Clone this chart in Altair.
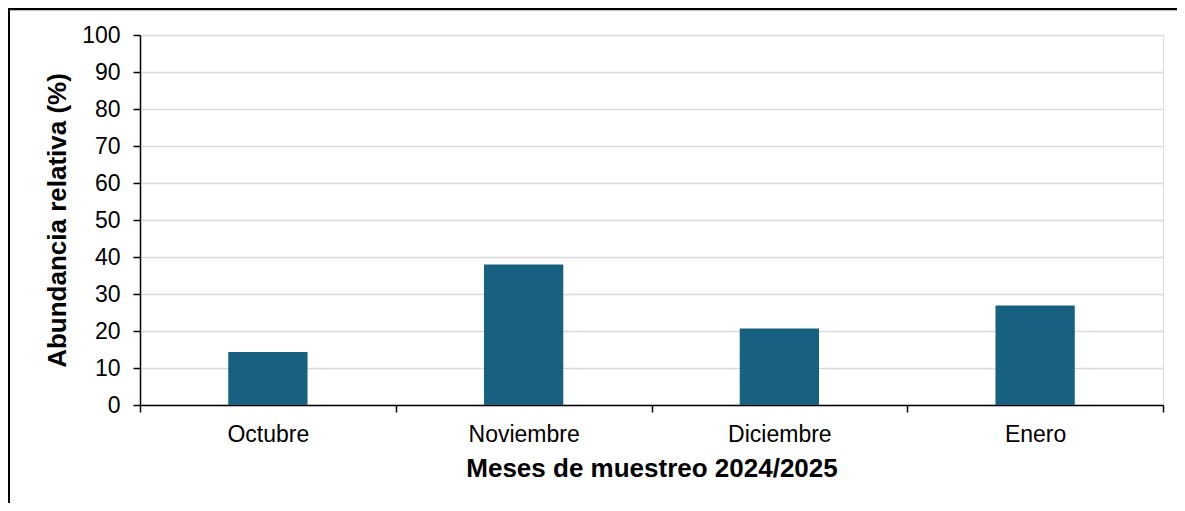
import altair as alt
import pandas as pd

months = ["Octubre", "Noviembre", "Diciembre", "Enero"]
abundance = [14.3, 38.0, 20.7, 26.9]
y_ticks = [0, 10, 20, 30, 40, 50, 60, 70, 80, 90, 100]

df = pd.DataFrame({"mes": months, "abundancia": abundance})
frame_df = pd.DataFrame({"f": [0]})

FONT = "Liberation Sans"
W, H = 1023, 370

bars = alt.Chart(df).mark_bar(color="#17607F", width=alt.RelativeBandSize(0.31)).encode(
    x=alt.X(
        "mes:N",
        sort=months,
        title="Meses de muestreo 2024/2025",
        scale=alt.Scale(paddingInner=0, paddingOuter=0),
        axis=alt.Axis(
            labelAngle=0,
            labelFont=FONT,
            labelFontSize=23,
            labelColor="#000000",
            labelBaseline="middle",
            labelPadding=22,
            ticks=True,
            tickBand="extent",
            tickSize=7,
            tickColor="#000000",
            tickWidth=1.5,
            domainColor="#000000",
            domainWidth=1.5,
            grid=False,
            titleFont=FONT,
            titleFontSize=26,
            titleFontWeight="bold",
            titleColor="#000000",
            titleX=W / 2,
            titleY=63,
            titleAlign="center",
            titleBaseline="middle",
        ),
    ),
    y=alt.Y(
        "abundancia:Q",
        title="Abundancia relativa (%)",
        scale=alt.Scale(domain=[0, 100], nice=False),
        axis=alt.Axis(
            values=y_ticks,
            labelFont=FONT,
            labelFontSize=23,
            labelColor="#000000",
            labelPadding=13,
            tickSize=7,
            tickColor="#000000",
            tickWidth=1.5,
            domainColor="#000000",
            domainWidth=1.5,
            grid=True,
            gridColor="#D9D9D9",
            gridWidth=1.5,
            titleFont=FONT,
            titleFontSize=26,
            titleFontWeight="bold",
            titleColor="#000000",
            titleAngle=270,
            titleX=-83,
            titleY=H / 2,
            titleAlign="center",
            titleBaseline="middle",
        ),
    ),
)

frame_top = alt.Chart(frame_df).mark_rule(color="#000000", strokeWidth=2.5).encode(
    x=alt.value(-132), x2=alt.value(W + 20), y=alt.value(-26)
)
frame_left = alt.Chart(frame_df).mark_rule(color="#000000", strokeWidth=2).encode(
    x=alt.value(-131), y=alt.value(-27), y2=alt.value(H + 100)
)

chart = (
    alt.layer(bars, frame_top, frame_left)
    .properties(
        width=W,
        height=H,
        autosize=alt.AutoSizeParams(type="none"),
        padding={"left": 132, "top": 27, "right": 14, "bottom": 98},
    )
    .configure_view(strokeWidth=0, strokeOpacity=0)
    .configure(background="#FFFFFF")
)

chart.save("out.html", embed_options={"renderer": "svg", "actions": False})
